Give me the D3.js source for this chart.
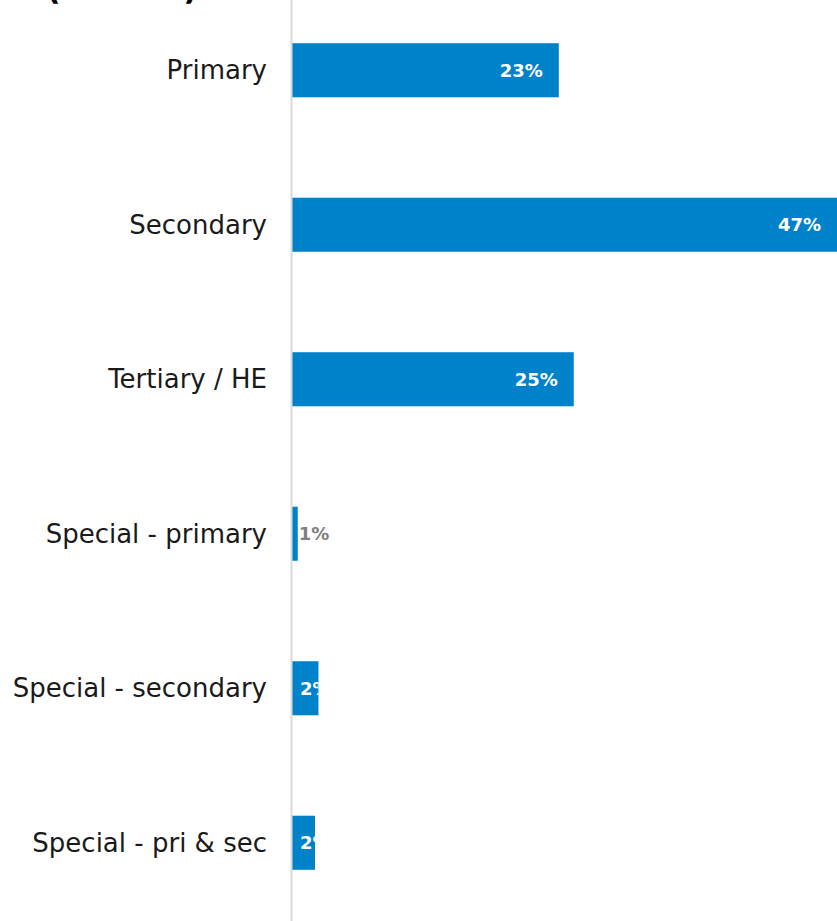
<!DOCTYPE html>
<html>
<head>
    <title>Education phase</title>
    <script src="https://cdnjs.cloudflare.com/ajax/libs/d3/7.8.5/d3.min.js"></script>
    <style>
        body {
            margin: 0;
            background: white;
            overflow: hidden;
        }
        .cat-label {
            font-family: "Century Gothic", "DejaVu Sans", sans-serif;
            font-size: 26px;
            fill: #1a1a1a;
        }
        .val-label {
            font-family: "Century Gothic", "DejaVu Sans", sans-serif;
            font-size: 18px;
            font-weight: bold;
        }
        .title {
            font-family: "Century Gothic", "DejaVu Sans", sans-serif;
            font-size: 32px;
            font-weight: bold;
            white-space: pre;
        }
    </style>
</head>
<body>
    <div id="chart"></div>

    <script>
        // Data
        const categories = ['Primary', 'Secondary', 'Tertiary / HE', 'Special - primary', 'Special - secondary', 'Special - pri & sec'];
        const values = [23.2, 47.4, 24.5, 0.5, 2.3, 2.0];
        const titleText = '(           )';

        // Setup
        const width = 837;
        const height = 921;
        const margin = { left: 292 };

        const svg = d3.select('#chart')
            .append('svg')
            .attr('width', width)
            .attr('height', height);

        // Scales
        const x = d3.scaleLinear().domain([0, 100]).range([margin.left, margin.left + 1150]);
        const y = d3.scaleBand()
            .domain(categories)
            .range([-7, 920])
            .paddingInner(0.65)
            .paddingOuter(0.325);

        const color = '#0082ca';

        // Title (mostly off the top of the picture)
        svg.append('text')
            .attr('class', 'title')
            .attr('x', 46)
            .attr('y', -1)
            .text(titleText);

        // Bars
        svg.selectAll('.bar')
            .data(values)
            .enter()
            .append('rect')
            .attr('class', 'bar')
            .attr('x', x(0))
            .attr('y', (d, i) => y(categories[i]))
            .attr('width', d => x(d) - x(0))
            .attr('height', y.bandwidth())
            .attr('fill', color);

        // Clip paths so labels stay within their bars
        const defs = svg.append('defs');
        values.forEach((d, i) => {
            defs.append('clipPath')
                .attr('id', 'clip' + i)
                .append('rect')
                .attr('x', x(0))
                .attr('y', y(categories[i]))
                .attr('width', x(d) - x(0))
                .attr('height', y.bandwidth());
        });

        // Value labels
        values.forEach((d, i) => {
            const cy = y(categories[i]) + y.bandwidth() / 2;
            const label = Math.round(d) + '%';
            if (d < 1) {
                // too thin, put label outside
                svg.append('text')
                    .attr('class', 'val-label')
                    .attr('x', x(d) + 1)
                    .attr('y', cy)
                    .attr('dy', '0.35em')
                    .attr('fill', '#7f7f7f')
                    .text(label);
            } else {
                const t = svg.append('text')
                    .attr('class', 'val-label')
                    .attr('y', cy)
                    .attr('dy', '0.35em')
                    .attr('fill', 'white')
                    .attr('clip-path', 'url(#clip' + i + ')')
                    .text(label);
                const tw = t.node().getComputedTextLength();
                let tx = x(d) - 16 - tw;
                if (tx < x(0) + 8) tx = x(0) + 8;
                t.attr('x', tx);
            }
        });

        // Axis line
        svg.append('line')
            .attr('x1', x(0) - 0.5)
            .attr('x2', x(0) - 0.5)
            .attr('y1', 0)
            .attr('y2', height)
            .attr('stroke', '#d9d9d9')
            .attr('stroke-width', 2);

        // Category labels
        svg.selectAll('.cat-label')
            .data(categories)
            .enter()
            .append('text')
            .attr('class', 'cat-label')
            .attr('x', margin.left - 25)
            .attr('y', d => y(d) + y.bandwidth() / 2)
            .attr('dy', '0.35em')
            .attr('text-anchor', 'end')
            .text(d => d);
    </script>
</body>
</html>
